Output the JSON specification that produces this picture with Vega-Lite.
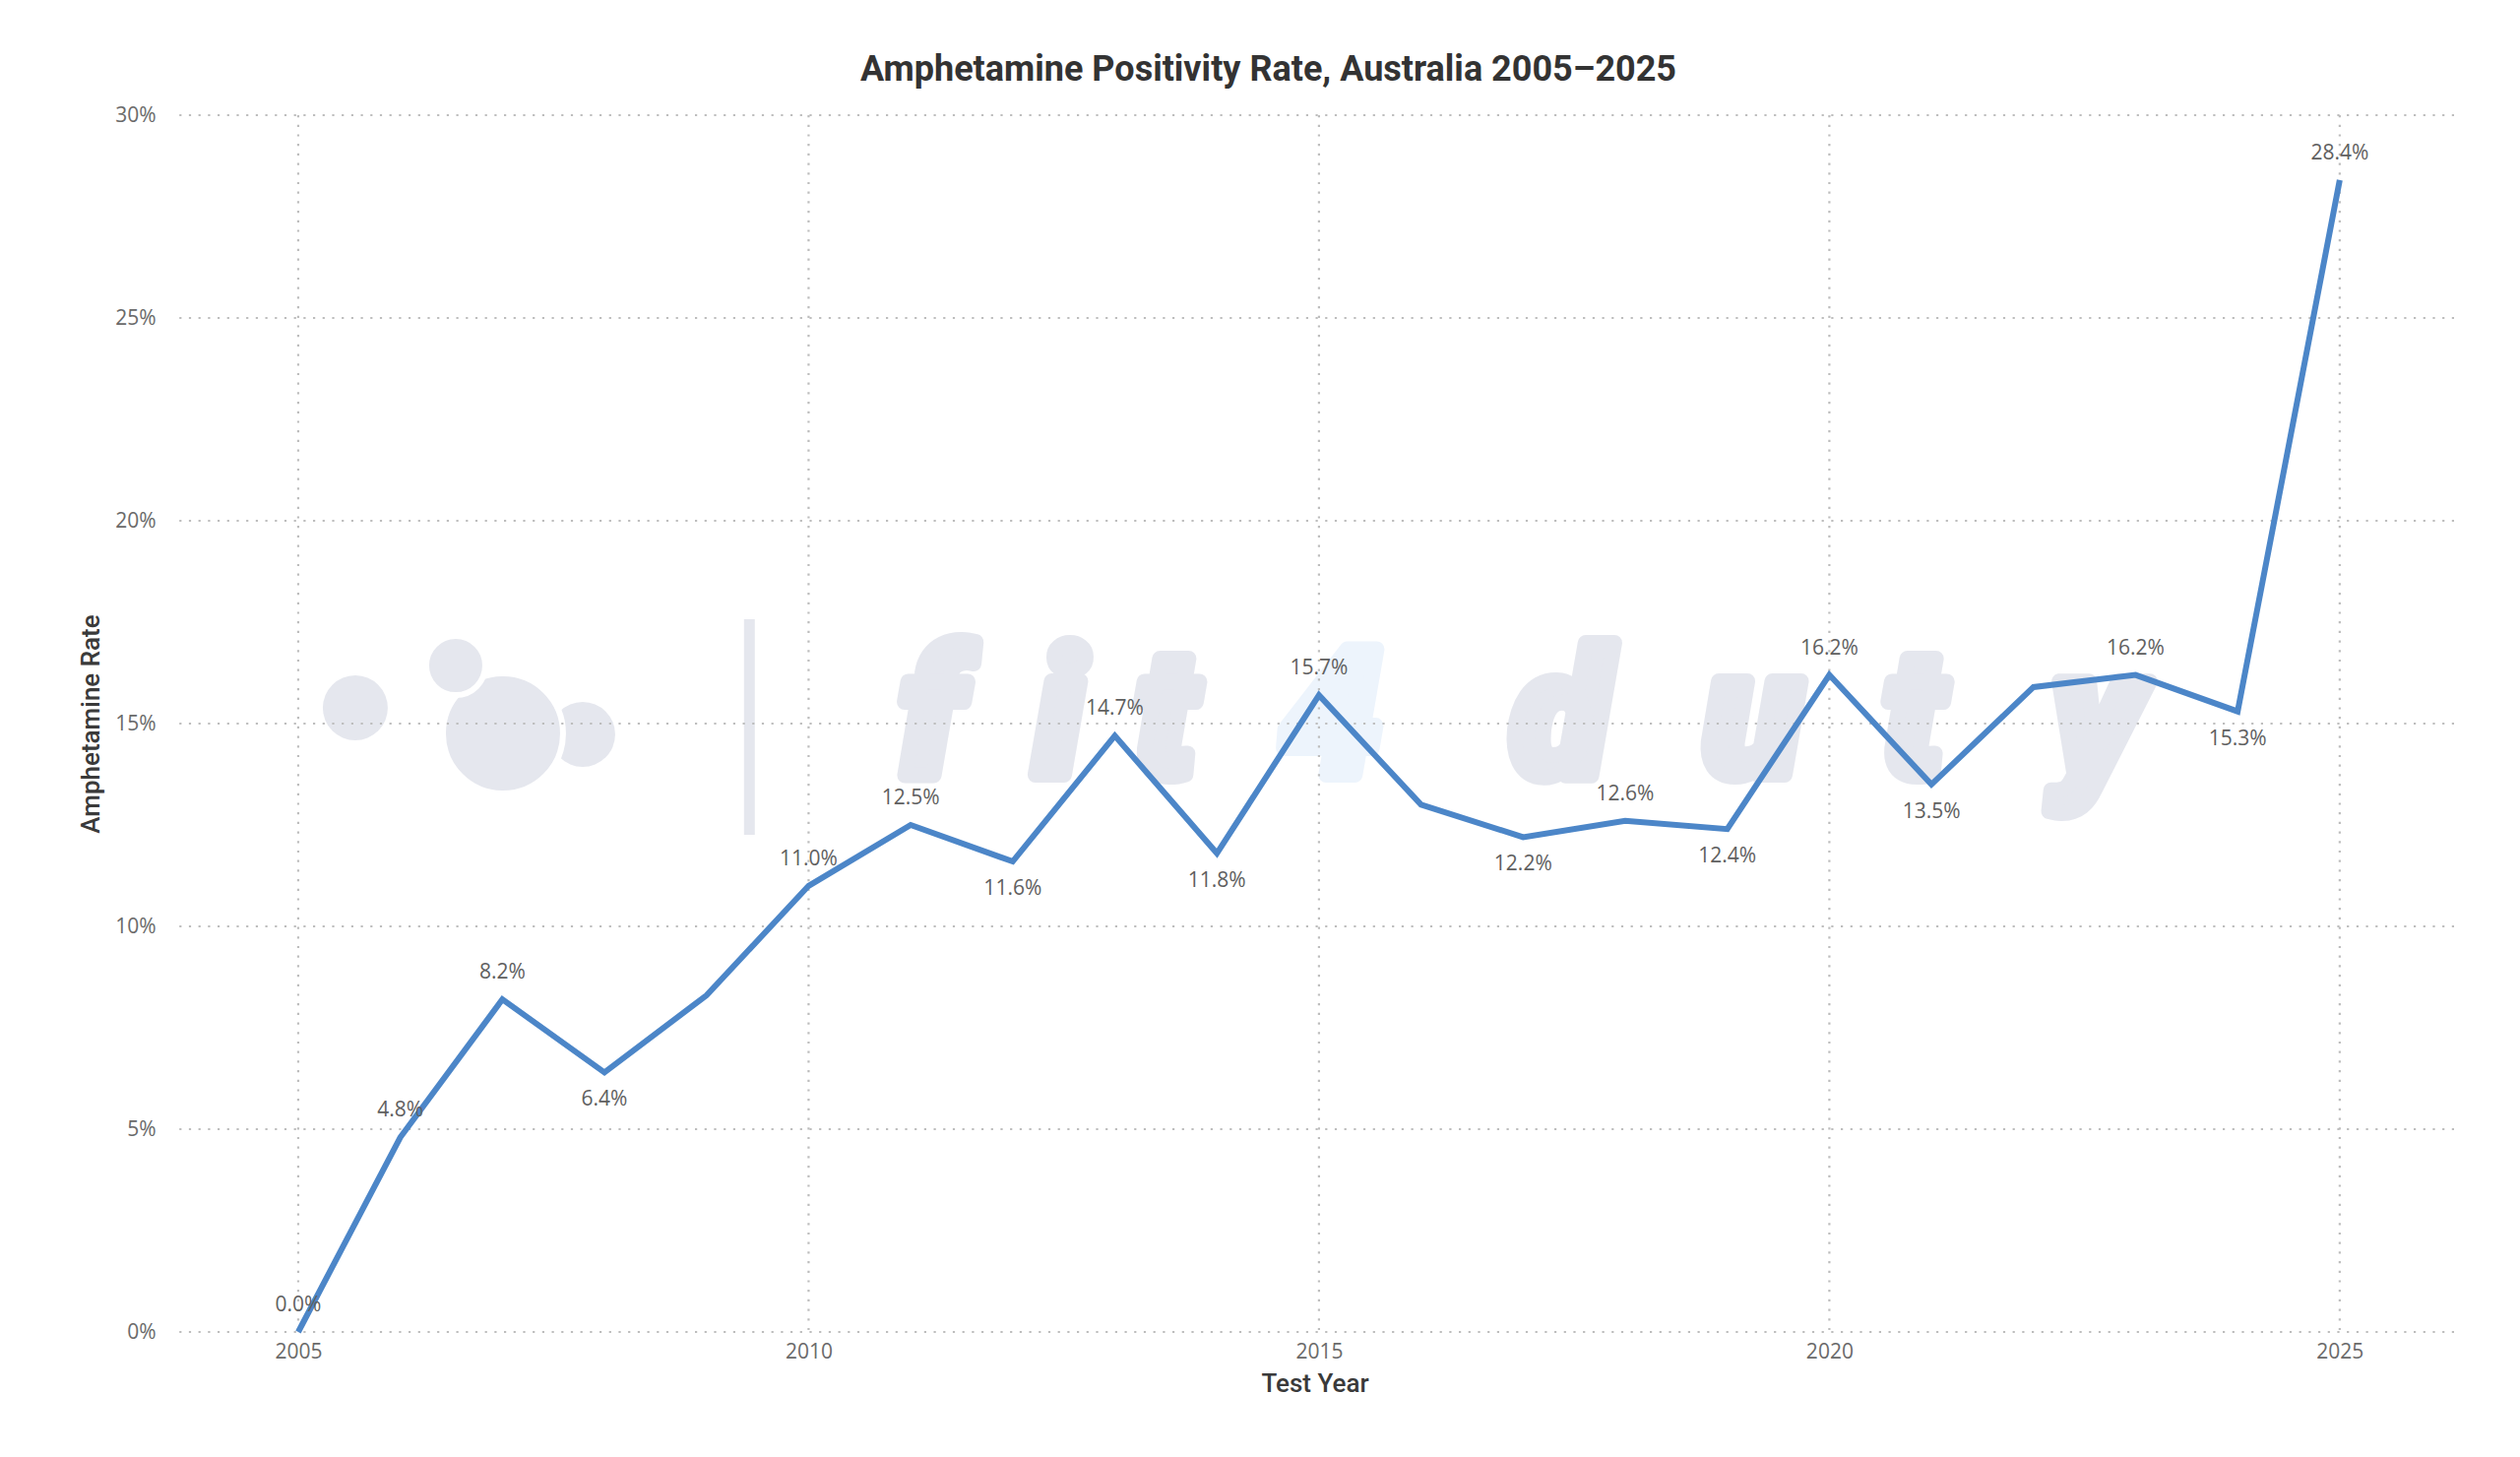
{
  "$schema": "https://vega.github.io/schema/vega-lite/v6.json",
  "width": 2315,
  "height": 1236,
  "autosize": {"type": "none"},
  "padding": {"left": 178, "top": 117, "right": 67, "bottom": 127},
  "background": "white",
  "title": {
    "text": "Amphetamine Positivity Rate, Australia 2005–2025",
    "font": "Roboto",
    "fontSize": 36,
    "fontWeight": "bold",
    "color": "#333333",
    "anchor": "middle",
    "dx": -47,
    "offset": 16
  },
  "config": {
    "view": {"stroke": null},
    "axis": {
      "domain": false,
      "ticks": false,
      "tickSize": 0,
      "grid": false,
      "labelFont": "Open Sans",
      "labelFontSize": 21,
      "labelColor": "#6A6A6A",
      "titleFont": "Roboto",
      "titleFontSize": 26,
      "titleFontWeight": 500,
      "titleColor": "#3A3A3A"
    },
    "text": {"font": "Roboto", "fontWeight": 900, "fontStyle": "italic", "fontSize": 180, "baseline": "alphabetic", "align": "center", "strokeWidth": 16, "strokeJoin": "round"}
  },
  "datasets": {
    "rates": [
      {"year": 2005, "rate": 0.0},
      {"year": 2006, "rate": 0.048},
      {"year": 2007, "rate": 0.082},
      {"year": 2008, "rate": 0.064},
      {"year": 2009, "rate": 0.083},
      {"year": 2010, "rate": 0.110},
      {"year": 2011, "rate": 0.125},
      {"year": 2012, "rate": 0.116},
      {"year": 2013, "rate": 0.147},
      {"year": 2014, "rate": 0.118},
      {"year": 2015, "rate": 0.157},
      {"year": 2016, "rate": 0.130},
      {"year": 2017, "rate": 0.122},
      {"year": 2018, "rate": 0.126},
      {"year": 2019, "rate": 0.124},
      {"year": 2020, "rate": 0.162},
      {"year": 2021, "rate": 0.135},
      {"year": 2022, "rate": 0.159},
      {"year": 2023, "rate": 0.162},
      {"year": 2024, "rate": 0.153},
      {"year": 2025, "rate": 0.284}
    ],
    "yGrid": [{"g": 0}, {"g": 0.05}, {"g": 0.1}, {"g": 0.15}, {"g": 0.2}, {"g": 0.25}, {"g": 0.3}],
    "xGrid": [{"g": 2005}, {"g": 2010}, {"g": 2015}, {"g": 2020}, {"g": 2025}]
  },
  "layer": [
    {
      "data": {"name": "rates"},
      "mark": {"type": "line", "color": "#4C86C8", "strokeWidth": 6, "strokeJoin": "miter", "opacity": 0},
      "encoding": {
        "x": {
          "field": "year",
          "type": "quantitative",
          "scale": {"domain": [2003.795, 2026.12], "nice": false, "zero": false},
          "axis": {"values": [2005, 2010, 2015, 2020, 2025], "format": "d", "title": "Test Year", "labelPadding": 9, "titlePadding": 9}
        },
        "y": {
          "field": "rate",
          "type": "quantitative",
          "scale": {"domain": [0, 0.3], "nice": false},
          "axis": {"values": [0, 0.05, 0.1, 0.15, 0.2, 0.25, 0.3], "format": ".0%", "title": "Amphetamine Rate", "labelPadding": 20, "titlePadding": 11}
        }
      }
    },
    {
      "data": {"values": [{}]},
      "mark": {"type": "point", "shape": "circle", "filled": true, "color": "#E5E7EE", "opacity": 1, "size": 4356},
      "encoding": {
        "x": {"datum": 2005.559, "type": "quantitative"},
        "y": {"datum": 0.15388, "type": "quantitative"}
      }
    },
    {
      "data": {"values": [{}]},
      "mark": {"type": "point", "shape": "circle", "filled": true, "color": "#E5E7EE", "opacity": 1, "size": 4356},
      "encoding": {
        "x": {"datum": 2007.787, "type": "quantitative"},
        "y": {"datum": 0.14733, "type": "quantitative"}
      }
    },
    {
      "data": {"values": [{}]},
      "mark": {"type": "point", "shape": "circle", "filled": true, "fill": "#E5E7EE", "stroke": "white", "strokeWidth": 6, "opacity": 1, "size": 14884},
      "encoding": {
        "x": {"datum": 2007.006, "type": "quantitative"},
        "y": {"datum": 0.14757, "type": "quantitative"}
      }
    },
    {
      "data": {"values": [{}]},
      "mark": {"type": "point", "shape": "circle", "filled": true, "fill": "#E5E7EE", "stroke": "white", "strokeWidth": 6, "opacity": 1, "size": 3600},
      "encoding": {
        "x": {"datum": 2006.543, "type": "quantitative"},
        "y": {"datum": 0.1643, "type": "quantitative"}
      }
    },
    {
      "data": {"values": [{}]},
      "mark": {"type": "rule", "color": "#E5E7EE", "strokeWidth": 11},
      "encoding": {
        "x": {"datum": 2009.42, "type": "quantitative"},
        "y": {"datum": 0.1757, "type": "quantitative"},
        "y2": {"datum": 0.1226}
      }
    },
    {
      "data": {"values": [{}]},
      "mark": {"type": "text", "text": "f", "fill": "#E5E7EE", "stroke": "#E5E7EE"},
      "encoding": {
        "x": {"datum": 2011.2, "type": "quantitative"},
        "y": {"datum": 0.1374, "type": "quantitative"}
      }
    },
    {
      "data": {"values": [{}]},
      "mark": {"type": "text", "text": "i", "fill": "#E5E7EE", "stroke": "#E5E7EE"},
      "encoding": {
        "x": {"datum": 2012.45, "type": "quantitative"},
        "y": {"datum": 0.1374, "type": "quantitative"}
      }
    },
    {
      "data": {"values": [{}]},
      "mark": {"type": "text", "text": "t", "fill": "#E5E7EE", "stroke": "#E5E7EE"},
      "encoding": {
        "x": {"datum": 2013.5, "type": "quantitative"},
        "y": {"datum": 0.1374, "type": "quantitative"}
      }
    },
    {
      "data": {"values": [{}]},
      "mark": {"type": "text", "text": "4", "fill": "#EDF4FC", "stroke": "#EDF4FC"},
      "encoding": {
        "x": {"datum": 2015.12, "type": "quantitative"},
        "y": {"datum": 0.1374, "type": "quantitative"}
      }
    },
    {
      "data": {"values": [{}]},
      "mark": {"type": "text", "text": "d", "fill": "#E5E7EE", "stroke": "#E5E7EE"},
      "encoding": {
        "x": {"datum": 2017.36, "type": "quantitative"},
        "y": {"datum": 0.1374, "type": "quantitative"}
      }
    },
    {
      "data": {"values": [{}]},
      "mark": {"type": "text", "text": "u", "fill": "#E5E7EE", "stroke": "#E5E7EE"},
      "encoding": {
        "x": {"datum": 2019.25, "type": "quantitative"},
        "y": {"datum": 0.1374, "type": "quantitative"}
      }
    },
    {
      "data": {"values": [{}]},
      "mark": {"type": "text", "text": "t", "fill": "#E5E7EE", "stroke": "#E5E7EE"},
      "encoding": {
        "x": {"datum": 2020.82, "type": "quantitative"},
        "y": {"datum": 0.1374, "type": "quantitative"}
      }
    },
    {
      "data": {"values": [{}]},
      "mark": {"type": "text", "text": "y", "fill": "#E5E7EE", "stroke": "#E5E7EE"},
      "encoding": {
        "x": {"datum": 2022.62, "type": "quantitative"},
        "y": {"datum": 0.1374, "type": "quantitative"}
      }
    },
    {
      "data": {"name": "yGrid"},
      "mark": {"type": "rule", "color": "#BDBDBD", "strokeWidth": 2.2, "strokeDash": [2.2, 7.5]},
      "encoding": {
        "y": {"field": "g", "type": "quantitative"}
      }
    },
    {
      "data": {"name": "xGrid"},
      "mark": {"type": "rule", "color": "#BDBDBD", "strokeWidth": 2.2, "strokeDash": [2.2, 7.5]},
      "encoding": {
        "x": {"field": "g", "type": "quantitative"}
      }
    },
    {
      "data": {"name": "rates"},
      "mark": {"type": "line", "color": "#4C86C8", "strokeWidth": 6, "strokeJoin": "miter"},
      "encoding": {
        "x": {"field": "year", "type": "quantitative"},
        "y": {"field": "rate", "type": "quantitative"}
      }
    },
    {
      "data": {"name": "rates"},
      "transform": [
        {"window": [{"op": "lag", "field": "rate", "as": "prev"}, {"op": "lead", "field": "rate", "as": "next"}], "sort": [{"field": "year"}]},
        {"filter": "datum.year != 2009 && datum.year != 2016 && datum.year != 2022"},
        {"filter": "!(isValid(datum.prev) && isValid(datum.next) && datum.rate < datum.prev && datum.rate < datum.next)"}
      ],
      "mark": {"type": "text", "font": "Open Sans", "fontWeight": "normal", "fontStyle": "normal", "fontSize": 21, "strokeWidth": 0, "color": "#5F5F5F", "baseline": "middle", "align": "center", "dy": -27},
      "encoding": {
        "x": {"field": "year", "type": "quantitative"},
        "y": {"field": "rate", "type": "quantitative"},
        "text": {"field": "rate", "type": "quantitative", "format": ".1%"}
      }
    },
    {
      "data": {"name": "rates"},
      "transform": [
        {"window": [{"op": "lag", "field": "rate", "as": "prev"}, {"op": "lead", "field": "rate", "as": "next"}], "sort": [{"field": "year"}]},
        {"filter": "isValid(datum.prev) && isValid(datum.next) && datum.rate < datum.prev && datum.rate < datum.next"}
      ],
      "mark": {"type": "text", "font": "Open Sans", "fontWeight": "normal", "fontStyle": "normal", "fontSize": 21, "strokeWidth": 0, "color": "#5F5F5F", "baseline": "middle", "align": "center", "dy": 28},
      "encoding": {
        "x": {"field": "year", "type": "quantitative"},
        "y": {"field": "rate", "type": "quantitative"},
        "text": {"field": "rate", "type": "quantitative", "format": ".1%"}
      }
    }
  ]
}
